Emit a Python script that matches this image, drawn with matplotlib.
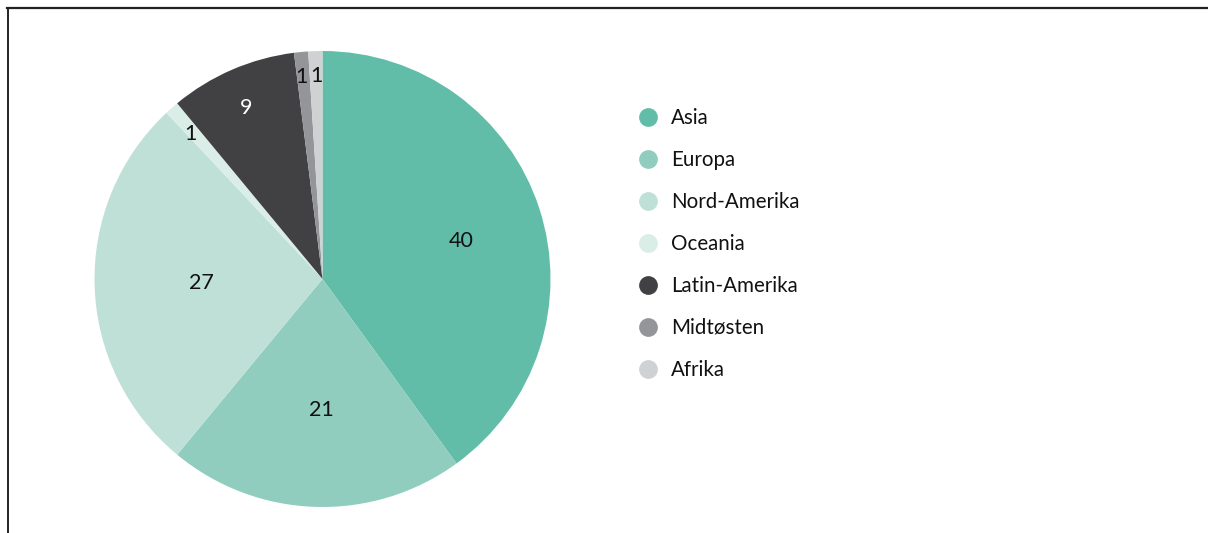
import matplotlib
matplotlib.use("Agg")
import matplotlib.pyplot as plt
from matplotlib.lines import Line2D
import numpy as np

categories = ["Asia", "Europa", "Nord-Amerika", "Oceania", "Latin-Amerika", "Midtøsten", "Afrika"]
values = [40, 21, 27, 1, 9, 1, 1]
colors = ["#62BDA8", "#91CDBE", "#BFE0D7", "#DAEDE7", "#414143", "#939598", "#D0D1D3"]
label_colors = ["#111111", "#111111", "#111111", "#111111", "#FFFFFF", "#111111", "#111111"]
label_radius = [0.63, 0.575, 0.53, 0.86, 0.82, 0.89, 0.89]
label_angle_shift = [-2.6, 1.5, 0, 0.8, 0.8, 0.5, 0]

plt.rcParams['font.family'] = ['Lato', 'DejaVu Sans']

W, H = 1208, 533
fig = plt.figure(figsize=(W / 100, H / 100), dpi=100)

cx, cy, R = 322.5, 279, 228
ax = fig.add_axes([(cx - R) / W, (H - cy - R) / H, 2 * R / W, 2 * R / H])
wedges, _ = ax.pie(values, colors=colors, startangle=90, counterclock=False,
                   radius=1, wedgeprops=dict(linewidth=0))
for w, v, lc, lr, sh in zip(wedges, values, label_colors, label_radius, label_angle_shift):
    ang = np.deg2rad((w.theta1 + w.theta2) / 2 + sh)
    ax.text(lr * np.cos(ang), lr * np.sin(ang), str(v), ha="center", va="center",
            fontsize=15.5, color=lc)
ax.set_xlim(-1, 1)
ax.set_ylim(-1, 1)
ax.set_aspect("equal")
ax.axis("off")

# overlay in pixel coordinates
ov = fig.add_axes([0, 0, 1, 1], facecolor="none")
ov.set_xlim(0, W)
ov.set_ylim(H, 0)
ov.axis("off")
ov.add_line(Line2D([7, W], [8, 8], color="#222222", lw=1.6))
ov.add_line(Line2D([7.5, 7.5], [8, H], color="#222222", lw=1.4))

y0, dy = 117, 42
for i, (cat, col) in enumerate(zip(categories, colors)):
    y = y0 + i * dy
    ov.plot(648, y, "o", ms=13.5, color=col, mec="none")
    ov.text(671, y + 1, cat, ha="left", va="center", fontsize=14.8, color="#111111")

fig.savefig("out.png", dpi=100)
